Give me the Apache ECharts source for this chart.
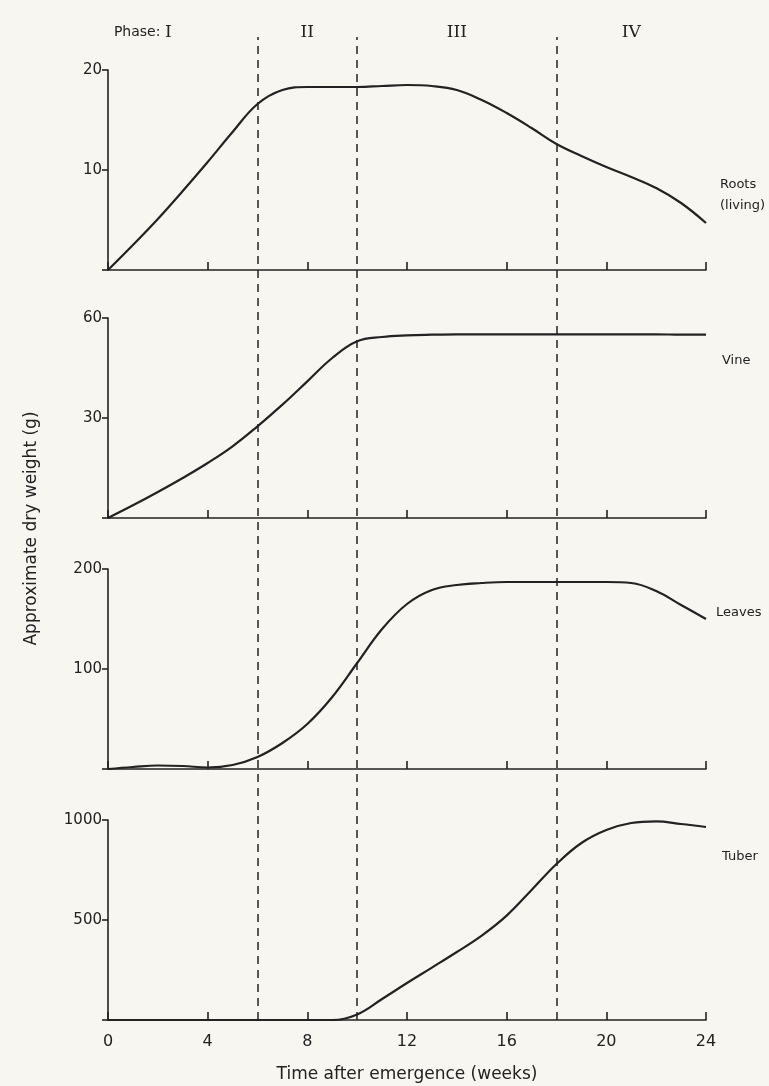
<!DOCTYPE html>
<html>
<head>
<meta charset="utf-8">
<script src="https://cdn.jsdelivr.net/npm/echarts@6/dist/echarts.min.js"></script>
<style>
  html, body { margin: 0; padding: 0; background: #f7f6f1; }
  #chart { width: 769px; height: 1086px; }
</style>
</head>
<body>
<div id="chart"></div>
<script>
var weeks = [0, 1, 2, 3, 4, 5, 6, 7, 8, 9, 10, 11, 12, 13, 14, 15, 16, 17, 18, 19, 20, 21, 22, 23, 24];
var roots = [0, 2.5, 5.1, 7.9, 10.8, 13.8, 16.6, 18, 18.3, 18.3, 18.3, 18.4, 18.5, 18.4, 18, 17, 15.7, 14.2, 12.6, 11.4, 10.3, 9.3, 8.2, 6.7, 4.7];
var vine = [0, 3.8, 7.8, 12, 16.5, 21.5, 27.5, 34, 41, 48, 53, 54.3, 54.8, 55, 55.1, 55.1, 55.1, 55.1, 55.1, 55.1, 55.1, 55.1, 55.1, 55, 55];
var leaves = [0, 2, 3.5, 3, 1.5, 4, 12, 26, 45, 72, 106, 140, 165, 179, 184, 186, 187, 187, 187, 187, 187, 186, 178, 164, 150];
var tuber = [0, 0, 0, 0, 0, 0, 0, 0, 0, 0, 28, 105, 185, 262, 340, 422, 522, 650, 780, 885, 950, 985, 993, 980, 965];

var seriesNames = ['Roots\n(living)', 'Vine', 'Leaves', 'Tuber'];
var yMax = [20, 60, 200, 1000];
var yStep = [10, 30, 100, 500];

var phaseBounds = [6, 10, 18];
var phaseX = [3, 8, 14, 21];
var phaseNames = ['I', 'II', 'III', 'IV'];

var chart = echarts.init(document.getElementById('chart'));
var ink = '#222222';
var font = 'DejaVu Sans';

var grids = [];
var xAxes = [];
var yAxes = [];
var series = [];
var panelTop = [70, 318, 569, 820];
var labelOffset = [[6, -28], [8, 26], [2, -6], [8, 30]];
var allData = [roots, vine, leaves, tuber];

for (var i = 0; i < 4; i++) {
    grids.push({ left: 108, width: 598, top: panelTop[i], height: 200 });
    xAxes.push({
        type: 'value', gridIndex: i, min: 0, max: 24, interval: 4,
        axisLine: { lineStyle: { color: ink, width: 1.6 } },
        axisTick: { inside: true, length: 8, lineStyle: { color: ink, width: 1.6 } },
        axisLabel: { show: i === 3, color: ink, fontFamily: font, fontSize: 16, margin: 14 },
        splitLine: { show: false },
        name: i === 3 ? 'Time after emergence (weeks)' : '',
        nameLocation: 'middle', nameGap: 46,
        nameTextStyle: { color: ink, fontFamily: font, fontSize: 17 }
    });
    yAxes.push({
        type: 'value', gridIndex: i, min: 0, max: yMax[i], interval: yStep[i],
        axisLine: { show: true, lineStyle: { color: ink, width: 1.6 } },
        axisTick: { show: true, length: 6, lineStyle: { color: ink, width: 1.6 } },
        axisLabel: {
            color: ink, fontFamily: font, fontSize: 15, margin: 6,
            formatter: function (v) { return v === 0 ? '' : v; }
        },
        splitLine: { show: false }
    });
    // 每个面板一条曲线
    var pts = weeks.map(function (w, k) { return [w, allData[i][k]]; });
    series.push({
        type: 'line', xAxisIndex: i, yAxisIndex: i,
        data: pts, smooth: 0.4, symbol: 'none',
        lineStyle: { color: ink, width: 2.2 },
        endLabel: {
            show: true, formatter: seriesNames[i], offset: labelOffset[i],
            color: ink, fontFamily: font, fontSize: 13, lineHeight: 21, align: 'left'
        }
    });
}

// overlay grid for phase boundaries
grids.push({ left: 108, width: 598, top: 37, height: 983 });
xAxes.push({ type: 'value', gridIndex: 4, min: 0, max: 24, show: false });
yAxes.push({
    type: 'value', gridIndex: 4, min: 0, max: 1,
    axisLine: { show: false }, axisTick: { show: false }, axisLabel: { show: false },
    splitLine: { show: false },
    name: 'Approximate dry weight (g)', nameLocation: 'middle', nameGap: 68,
    nameTextStyle: { color: ink, fontFamily: font, fontSize: 17 }
});
series.push({
    type: 'scatter', xAxisIndex: 4, yAxisIndex: 4,
    symbolSize: 0,
    itemStyle: { opacity: 1 },
    data: phaseX.map(function (x, k) { return [x, 1, k]; }),
    label: {
        show: true, position: 'top', distance: 0, color: ink,
        formatter: function (p) {
            var k = p.data[2];
            return k === 0 ? '{a|Phase: }{b|' + phaseNames[k] + '}' : '{b|' + phaseNames[k] + '}';
        },
        rich: {
            a: { color: ink, fontFamily: font, fontSize: 14 },
            b: { color: ink, fontFamily: 'DejaVu Serif', fontSize: 17 }
        }
    },
    emphasis: { disabled: true },
    labelLayout: function (p) {
        return p.dataIndex === 0 ? { dx: -40, dy: 4 } : { dy: 4 };
    },
    markLine: {
        silent: true, symbol: 'none',
        label: { show: false },
        lineStyle: { color: ink, width: 1.5, type: [8, 6], opacity: 1 },
        data: phaseBounds.map(function (x) { return { xAxis: x }; })
    }
});

var option = {
    backgroundColor: '#f7f6f1',
    animation: false,
    grid: grids,
    xAxis: xAxes,
    yAxis: yAxes,
    series: series
};
chart.setOption(option);
</script>
</body>
</html>
